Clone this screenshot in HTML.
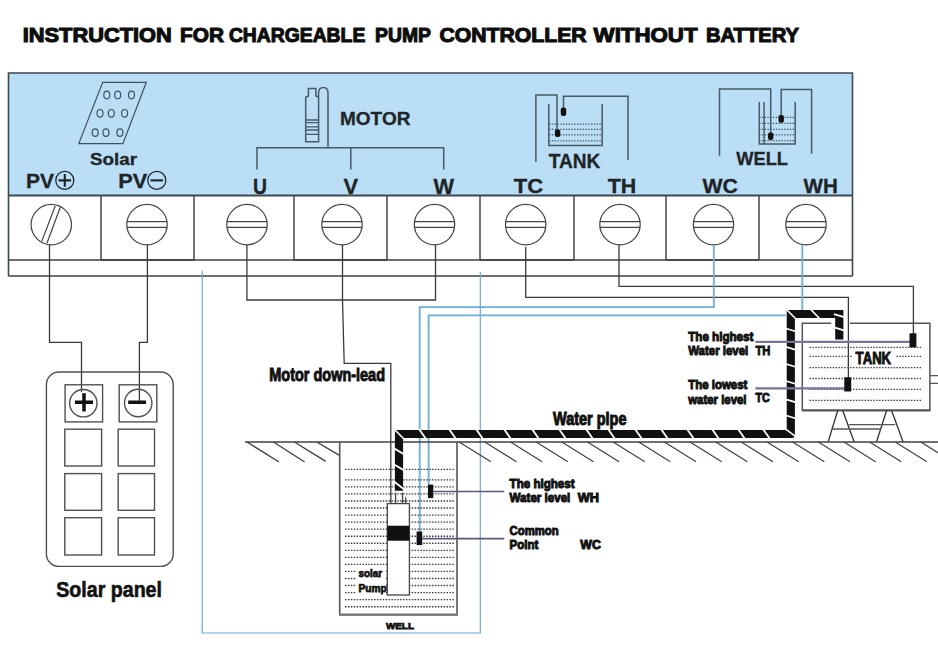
<!DOCTYPE html>
<html><head><meta charset="utf-8">
<style>
html,body{margin:0;padding:0;background:#fff;width:938px;height:652px;overflow:hidden}
svg{position:absolute;left:0;top:0;display:block}
text{font-family:"Liberation Sans",sans-serif;font-weight:bold}
</style></head>
<body>
<svg width="938" height="652" viewBox="0 0 938 652">
<!-- title -->
<g fill="#0d0d0d" stroke="#0d0d0d" stroke-width="1.1" font-size="20.7">
  <text x="22.8" y="41.9" textLength="148.9" lengthAdjust="spacingAndGlyphs">INSTRUCTION</text>
  <text x="180.1" y="41.9" textLength="43.9" lengthAdjust="spacingAndGlyphs">FOR</text>
  <text x="228.9" y="41.9" textLength="136.4" lengthAdjust="spacingAndGlyphs">CHARGEABLE</text>
  <text x="375.1" y="41.9" textLength="55.9" lengthAdjust="spacingAndGlyphs">PUMP</text>
  <text x="439.4" y="41.9" textLength="147.2" lengthAdjust="spacingAndGlyphs">CONTROLLER</text>
  <text x="593.6" y="41.9" textLength="104.0" lengthAdjust="spacingAndGlyphs">WITHOUT</text>
  <text x="705.9" y="41.9" textLength="93.2" lengthAdjust="spacingAndGlyphs">BATTERY</text>
</g>

<!-- blue panel -->
<rect x="8.5" y="73" width="844" height="122.5" fill="#b9def6"/>
<g fill="none" stroke="#3c4850" stroke-width="1.6">
  <path d="M8.5 276 V73 H852.5 V276"/>
  <path d="M8 195.6 H853" stroke-width="2"/>
</g>
<g fill="none" stroke="#404040" stroke-width="1.3">
  <path d="M8.5 260 H852.5 M8.5 276 H852.5"/>
  <path d="M101 196 V260 M194 196 V260 M294 196 V260 M387 196 V260 M480 196 V260 M574 196 V260 M666 196 V260 M759 196 V260" stroke-width="1.45"/>
  <path d="M101 260 H194 M294 260 H387 M480 260 H574 M666 260 H759" stroke-width="1.7"/>
</g>

<!-- screws -->
<g fill="none" stroke="#444" stroke-width="1.2">
  <circle cx="51.3" cy="224.6" r="20.2"/>
  <path d="M55.3 205.8 L41.7 241.4 M60.3 207.3 L46.9 243.3"/>
  <circle cx="147" cy="224.6" r="20.2"/>
  <circle cx="247" cy="224.6" r="20.2"/>
  <circle cx="342" cy="224.6" r="20.2"/>
  <circle cx="434.5" cy="224.6" r="20.2"/>
  <circle cx="525.7" cy="224.6" r="20.2"/>
  <circle cx="620" cy="224.6" r="20.2"/>
  <circle cx="713.5" cy="224.6" r="20.2"/>
  <circle cx="806" cy="224.6" r="20.2"/>
  <path d="M126.8 221.6 H167.2 M126.8 227.4 H167.2"/>
  <path d="M226.8 221.6 H267.2 M226.8 227.4 H267.2"/>
  <path d="M321.8 221.6 H362.2 M321.8 227.4 H362.2"/>
  <path d="M414.3 221.6 H454.7 M414.3 227.4 H454.7"/>
  <path d="M505.5 221.6 H545.9 M505.5 227.4 H545.9"/>
  <path d="M599.8 221.6 H640.2 M599.8 227.4 H640.2"/>
  <path d="M693.3 221.6 H733.7 M693.3 227.4 H733.7"/>
  <path d="M785.8 221.6 H826.2 M785.8 227.4 H826.2"/>
</g>

<!-- header labels -->
<g fill="#1e2428" stroke="#1e2428" stroke-width="0.3">
  <text x="26" y="187.8" font-size="20" textLength="28" lengthAdjust="spacingAndGlyphs">PV</text>
  <text x="118.2" y="187.8" font-size="20" textLength="29" lengthAdjust="spacingAndGlyphs">PV</text>
  <text x="90" y="164.7" font-size="16.5" textLength="47" lengthAdjust="spacingAndGlyphs">Solar</text>
  <text x="340" y="125.2" font-size="18.7" textLength="70.4" lengthAdjust="spacingAndGlyphs">MOTOR</text>
  <text x="253" y="193.9" font-size="21.5" textLength="14" lengthAdjust="spacingAndGlyphs">U</text>
  <text x="343.4" y="193.9" font-size="21.5" textLength="14.6" lengthAdjust="spacingAndGlyphs">V</text>
  <text x="433.4" y="193.9" font-size="21.5" textLength="20.6" lengthAdjust="spacingAndGlyphs">W</text>
  <text x="548.8" y="167.6" font-size="19.8" textLength="51.6" lengthAdjust="spacingAndGlyphs">TANK</text>
  <text x="513.8" y="193.3" font-size="21" textLength="29.5" lengthAdjust="spacingAndGlyphs">TC</text>
  <text x="607.7" y="193.3" font-size="21" textLength="28.6" lengthAdjust="spacingAndGlyphs">TH</text>
  <text x="736.2" y="165.3" font-size="18.5" textLength="51.8" lengthAdjust="spacingAndGlyphs">WELL</text>
  <text x="702.4" y="192.6" font-size="21" textLength="35.4" lengthAdjust="spacingAndGlyphs">WC</text>
  <text x="803.6" y="192.6" font-size="21" textLength="34.3" lengthAdjust="spacingAndGlyphs">WH</text>
</g>
<g fill="none" stroke="#1e2428" stroke-width="1.25">
  <circle cx="64.8" cy="180.4" r="9"/>
  <path d="M58.5 180.4 H71.1 M64.8 174.1 V186.7" stroke-width="2.1"/>
  <circle cx="156.8" cy="180.4" r="9"/>
  <path d="M150.5 180.4 H163.1" stroke-width="2.1"/>
</g>

<!-- solar icon -->
<g fill="none" stroke="#3d5262" stroke-width="1.2">
  <path d="M102.7 82.3 H146.3 L122.9 143.6 H78.8 Z"/>
  <ellipse cx="106.8" cy="95" rx="3" ry="3.8"/><ellipse cx="117.7" cy="95" rx="3" ry="3.8"/><ellipse cx="131.5" cy="95" rx="3" ry="3.8"/>
  <ellipse cx="100" cy="113.3" rx="3" ry="3.8"/><ellipse cx="111.3" cy="113.3" rx="3" ry="3.8"/><ellipse cx="124.6" cy="113.3" rx="3" ry="3.8"/>
  <ellipse cx="95.2" cy="132.6" rx="3" ry="3.8"/><ellipse cx="106" cy="132.6" rx="3" ry="3.8"/><ellipse cx="119.9" cy="132.6" rx="3" ry="3.8"/>
</g>

<!-- motor icon + bracket -->
<g fill="none" stroke="#475a66" stroke-width="1.5">
  <path d="M257 169.6 V147.8 H443.7 V169.6 M350.8 147.8 V169.6"/>
  <path d="M328 147.8 V93 Q328 87.6 323.3 87.6 Q318.6 87.6 318.6 93 V97"/>
  <path d="M305.7 141.8 V97.3 L308.4 96 V88.6 H315.9 V96 L318.6 97.3 V141.8 Z"/>
  <path d="M305.7 120 H318.6 M305.7 122.6 H318.6 M305.7 126.8 H318.6 M305.7 130 H318.6 M305.7 134.3 H318.6" stroke-width="1.3"/>
</g>

<!-- tank icon -->
<g fill="none" stroke="#475a66" stroke-width="1.5">
  <path d="M535.9 162 V95.1 H557 V133"/>
  <path d="M563.5 112 V96.2 H628 V160.1"/>
  <path d="M548.8 104 V145.4 H602.2 V104"/>
  <path d="M549 124.2 H602 M549 129.4 H602 M549 134.9 H602 M549 140.8 H602" stroke-dasharray="1.4 1.4" stroke-width="1.2"/>
</g>
<rect x="560.8" y="107.6" width="5.4" height="8.3" rx="2" fill="#111"/>
<rect x="554.9" y="129.4" width="5.4" height="7.6" rx="2" fill="#111"/>

<!-- well icon -->
<g fill="none" stroke="#475a66" stroke-width="1.5">
  <path d="M719.5 155.7 V88.9 H770.7 V133"/>
  <path d="M781.2 115 V89.5 H811.6 V153.7"/>
  <path d="M759.3 101.9 V144.1 H795.2 V101.9 M764.1 101.9 V144.1"/>
  <path d="M759 117.4 H795 M759 123.4 H795 M759 129.4 H795 M759 134.8 H795 M759 140.7 H795" stroke-dasharray="1.4 1.4" stroke-width="1.2"/>
</g>
<rect x="778.5" y="114.9" width="5.4" height="7.8" rx="2" fill="#111"/>
<rect x="768" y="132.5" width="5.4" height="7.4" rx="2" fill="#111"/>

<!-- wires from terminals -->
<g fill="none" stroke="#3a3a3a" stroke-width="1.3">
  <path d="M49.5 245 V342.3 H81.5 V392"/>
  <path d="M147.4 245 V342.3 H139.4 V402"/>
  <path d="M246.9 245 V300 H435.5 V245"/>
  <path d="M342.5 245 V300 L344.2 363.4 H390.8 V503"/>
  <path d="M525.7 247 V297.3 H848.4 V378"/>
  <path d="M619 245 V286.3 H913.4 V334"/>
</g>

<!-- blue wires -->
<g fill="none" stroke="#6aa8d4" stroke-width="1.2">
  <path d="M202.2 270.6 V633 H480.3 V272"/>
</g>
<g fill="none" stroke="#6aaed9" stroke-width="1.8">
  <path d="M713.8 245 V307.1 H419.7 V538"/>
  <path d="M802.3 245 V312 M786 315.3 H428.6 V485"/>
</g>

<!-- solar panel -->
<g fill="none" stroke="#505050" stroke-width="1.4">
  <rect x="46.4" y="372" width="126.8" height="194.4" rx="12.5"/>
  <rect x="65.1" y="384.8" width="37.5" height="37.1"/>
  <rect x="119.2" y="384.8" width="37.6" height="37.1"/>
  <rect x="64.8" y="429.2" width="36.8" height="36.8"/>
  <rect x="118.2" y="429.2" width="36.3" height="36.8"/>
  <rect x="64.8" y="473.6" width="36.8" height="36.7"/>
  <rect x="118.2" y="473.6" width="36.3" height="36.7"/>
  <rect x="64.8" y="517.7" width="36.8" height="37.3"/>
  <rect x="118.2" y="517.7" width="36.3" height="37.3"/>
  <circle cx="83.3" cy="403.2" r="13.7"/>
  <circle cx="138.2" cy="403" r="13.7"/>
</g>
<path d="M74.9 402.3 H93 M84 393.3 V411.4 M128.2 402.3 H146.1" stroke="#111" stroke-width="3.5" fill="none"/>
<text x="56.2" y="597.2" font-size="21.5" fill="#111" stroke="#111" stroke-width="0.6" textLength="105.8" lengthAdjust="spacingAndGlyphs">Solar panel</text>

<!-- ground -->
<g fill="none" stroke="#404040" stroke-width="1.4">
  <path d="M245 442 H938"/>
  <path d="M247 442 L279 462 M273.5 442 L304.6 462 M294.4 442 L325.7 461.3 M316.8 442 L339.5 455.4"/>
</g>
<path fill="none" stroke="#404040" stroke-width="1.2" d="M459.2 442 L490.9 461.8 M484.8 442 L516.5 461.8 M510.5 442 L542.2 461.8 M536.1 442 L567.9 461.8 M561.8 442 L593.5 461.8 M587.4 442 L619.1 461.8 M613.1 442 L644.8 461.8 M638.7 442 L670.4 461.8 M664.4 442 L696.1 461.8 M690.0 442 L721.7 461.8 M715.7 442 L747.4 461.8 M741.3 442 L773.0 461.8 M767.0 442 L798.7 461.8 M792.6 442 L824.3 461.8 M818.3 442 L850.0 461.8 M843.9 442 L875.6 461.8 M869.6 442 L901.3 461.8 M895.2 442 L926.9 461.8 M920.9 442 L952.6 461.8"/>

<!-- well -->
<g fill="none" stroke="#555" stroke-width="1.4">
  <path d="M339.7 442 V614.7 H457 V442" stroke="#555" stroke-width="1.6"/><path d="M339 614.6 H457.7" stroke="#777" stroke-width="2.2"/>
</g>

<!-- texts main -->
<g fill="#111" stroke="#111" stroke-width="1.0">
  <text x="269.3" y="381.3" font-size="19" textLength="115.7" lengthAdjust="spacingAndGlyphs">Motor down-lead</text>
  <text x="553" y="425" font-size="17.5" textLength="73.5" lengthAdjust="spacingAndGlyphs">Water pipe</text>
</g>

<!-- well dots -->
<path fill="none" stroke="#3c3c3c" stroke-width="1.35" stroke-dasharray="1.5 1.4" d="M345 469.4 H455 M345 479.8 H455 M345 486.9 H455 M345 493.9 H455 M345 501.0 H455 M345 508.0 H455 M345 515.1 H455 M345 522.1 H455 M345 529.1 H455 M345 536.2 H455 M345 543.2 H455 M345 550.3 H455 M345 557.3 H455 M345 564.4 H455 M345 571.4 H455 M345 578.5 H455 M345 585.5 H455 M345 592.6 H455 M345 599.6 H455 M345 606.7 H455"/>
<!-- tank -->
<g fill="none" stroke="#555" stroke-width="1.5">
  <path d="M831.3 323.2 H802.3 V410.3 H929.9 V323.2 H850"/><path d="M802 410.4 H930.3" stroke-width="2"/>
  <path d="M930 375.6 H938 M930 383.3 H938" stroke-width="1.3"/>
  <path d="M837.8 410.3 L828.2 441.8 M842.6 410.3 L854.1 441.8 M886.7 410.3 L876.6 441.8 M891.5 410.3 L903 441.8" stroke="#333" stroke-width="1.3"/>
  <path d="M832 429 H880.5 M848.8 424.7 H895.3" stroke-width="1.3"/>
</g>
<path fill="none" stroke="#444" stroke-width="1.35" stroke-dasharray="1.5 1.4" d="M809.5 347.4 H921 M809.5 356.3 H921 M809.5 367.6 H921 M809.5 378.5 H921 M809.5 389.3 H921 M809.5 400.3 H921"/>
<rect x="853" y="349" width="43" height="17" fill="#fff"/>
<text x="855.6" y="364" font-size="16" fill="#111" stroke="#111" stroke-width="0.9" textLength="35.5" lengthAdjust="spacingAndGlyphs">TANK</text>

<!-- pipe -->
<path fill="none" stroke="#111" stroke-width="8.2" stroke-linejoin="miter" d="M399 490.8 V434 H790.8 V314 H839.3 V339.6"/>
<g fill="none" stroke="#fff" stroke-width="1.8">
  <path d="M419 429 L426 439 M449 429 L456 439 M476 429 L483 439 M504 429 L511 439 M532 429 L539 439 M559 429 L566 439 M586 429 L593 439 M608 429 L615 439 M635 429 L642 439 M661 429 L668 439 M687 429 L694 439 M712 429 L719 439 M738 429 L745 439 M763 429 L770 439"/>
  <path d="M786 328.5 L796 331.5 M786 346.8 L796 349.8 M786 364 L796 367 M786 381 L796 384 M786 399.4 L796 402.4 M786 415.5 L796 418.5"/>
  <path d="M394 448.4 L404 454.2 M394 464.5 L404 470.3 M394 481.5 L404 489.2"/>
  <path d="M810.4 309 L820 319 M834 314.2 L844 317.2 M834 327.3 L844 330.3"/>
  <path d="M394.5 429.5 L403.5 438.5 M786 429.3 L795.5 436.3 M786.5 309.5 L795.5 318.5" stroke-width="1.6"/>
  <path d="M792.8 438.6 L795.6 438.6 L795.6 434.8 Z" fill="#fff" stroke="none"/>
</g>

<!-- pump -->
<g fill="none" stroke="#444" stroke-width="1.3">
  <rect x="387.3" y="503.6" width="22.1" height="91.4" fill="#fff"/>
  <path d="M395.6 492.5 V503.6 M402.5 492.5 V503.6"/>
  <path d="M405.6 497.3 V503.6"/>
</g>
<rect x="387.3" y="525.7" width="22.1" height="15" fill="#111"/>

<!-- probes -->
<path fill="none" stroke="#5a587c" stroke-width="1.7" d="M433 491.5 H504.2 M422 538.7 H504.2"/>
<path fill="none" stroke="#77759a" stroke-width="2.2" d="M755.4 341.9 H910 M755.4 388.4 H845"/>
<rect x="428" y="484.6" width="5.3" height="13.5" fill="#111"/>
<rect x="416.6" y="531.5" width="5.6" height="13.6" fill="#111"/>
<rect x="909.5" y="333.3" width="6.9" height="14" fill="#111"/>
<rect x="844.3" y="377.3" width="6.9" height="14.2" fill="#111"/>

<!-- labels -->
<g fill="#111" stroke="#111" stroke-width="0.95">
  <text x="688.2" y="341.1" font-size="12.5" textLength="65.2" lengthAdjust="spacingAndGlyphs">The highest</text>
  <text x="688.2" y="354.5" font-size="12.5" textLength="60.1" lengthAdjust="spacingAndGlyphs">Water level</text>
  <text x="755.4" y="354.5" font-size="12.5" textLength="14.9" lengthAdjust="spacingAndGlyphs">TH</text>
  <text x="688.2" y="388.6" font-size="12.5" textLength="59.2" lengthAdjust="spacingAndGlyphs">The lowest</text>
  <text x="688.2" y="404.3" font-size="12.5" textLength="58.3" lengthAdjust="spacingAndGlyphs">water level</text>
  <text x="755.4" y="401.9" font-size="12.5" textLength="14.3" lengthAdjust="spacingAndGlyphs">TC</text>
  <text x="509.6" y="488.1" font-size="12" textLength="65" lengthAdjust="spacingAndGlyphs">The highest</text>
  <text x="509.6" y="502" font-size="12" textLength="60.7" lengthAdjust="spacingAndGlyphs">Water level</text>
  <text x="577.8" y="502" font-size="12" textLength="21.3" lengthAdjust="spacingAndGlyphs">WH</text>
  <text x="509.6" y="535" font-size="12" textLength="49" lengthAdjust="spacingAndGlyphs">Common</text>
  <text x="509.6" y="549.3" font-size="12" textLength="28.7" lengthAdjust="spacingAndGlyphs">Point</text>
  <text x="580.3" y="549.3" font-size="12" textLength="20.5" lengthAdjust="spacingAndGlyphs">WC</text>
</g>
<rect x="356" y="566" width="30" height="28" fill="#fff"/>
<g fill="#111" stroke="#111" stroke-width="0.75">
  <text x="358.5" y="577.3" font-size="10.5" textLength="23.5" lengthAdjust="spacingAndGlyphs">solar</text>
  <text x="358.5" y="592.4" font-size="10.5" textLength="28.2" lengthAdjust="spacingAndGlyphs">Pump</text>
  <text x="386" y="629" font-size="8.5" textLength="27.9" lengthAdjust="spacingAndGlyphs">WELL</text>
</g>
</svg>
</body></html>
